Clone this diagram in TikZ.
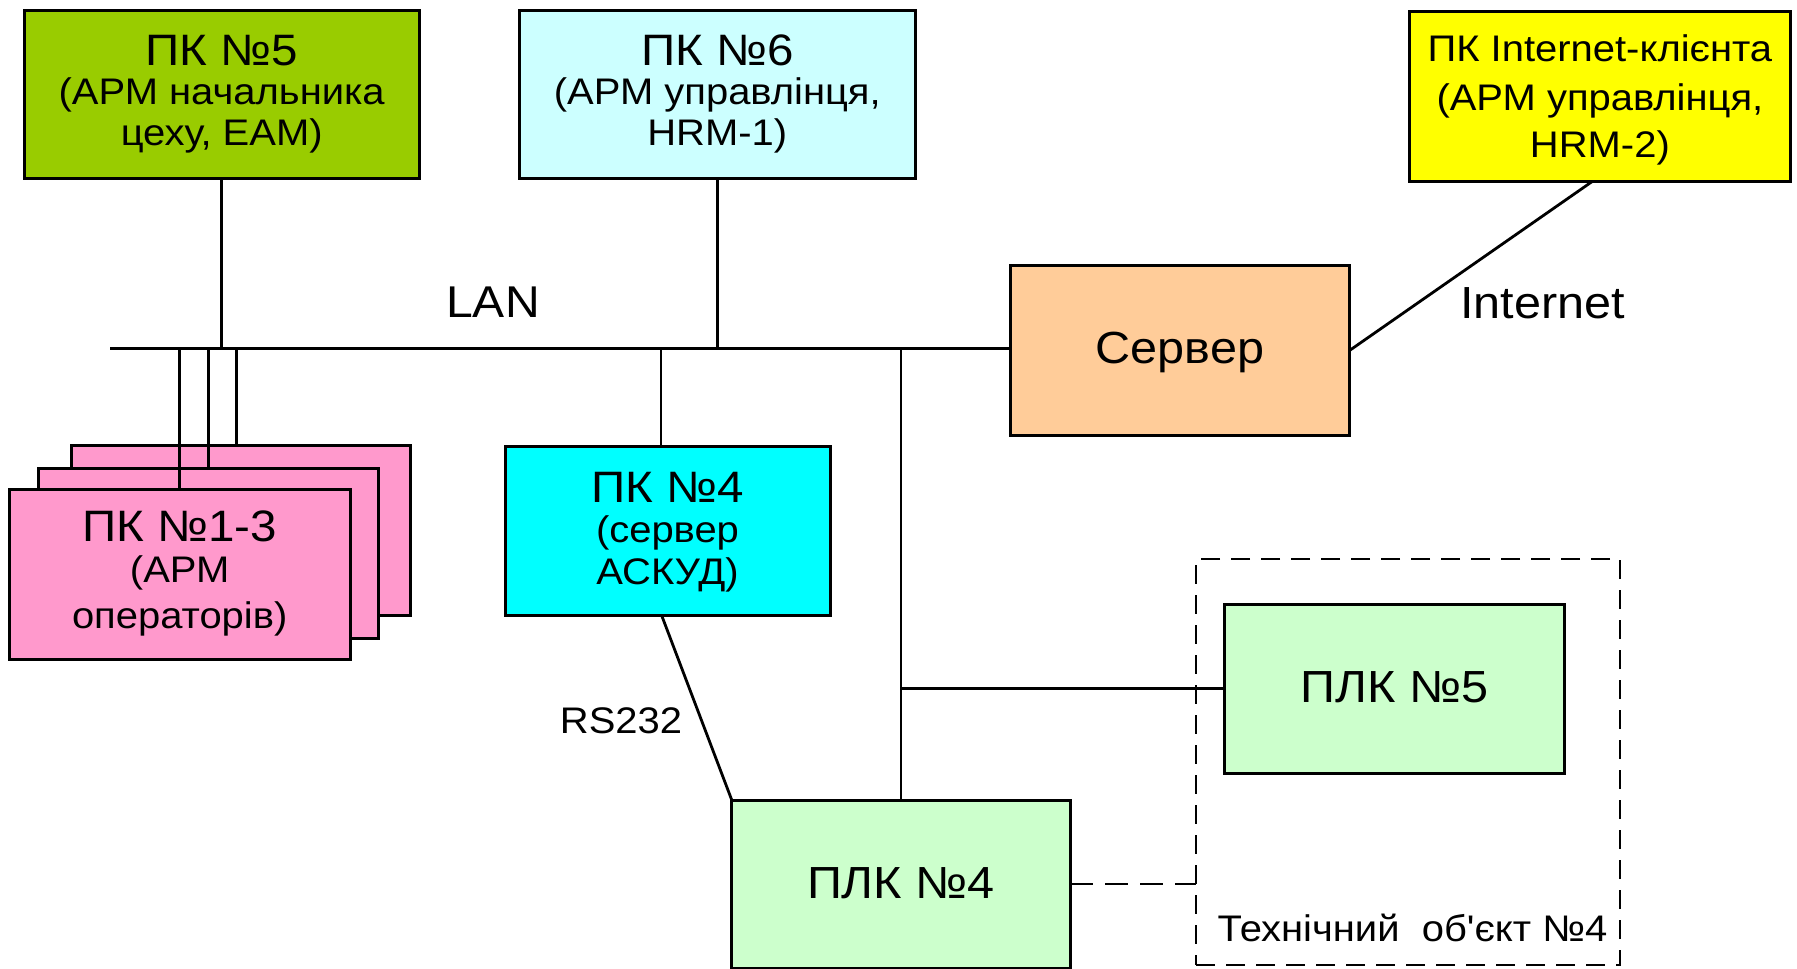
\documentclass[tikz,border=0pt]{standalone}
\usepackage{fontspec}
\setmainfont{Liberation Sans}[Ligatures=TeXOff, FakeStretch=1.08]

\definecolor{armboss}{HTML}{99CC00}
\definecolor{armhr}{HTML}{CCFFFF}
\definecolor{armnet}{HTML}{FFFF00}
\definecolor{srvcol}{HTML}{FFCC99}
\definecolor{opcol}{HTML}{FF99CC}
\definecolor{acscol}{HTML}{00FFFF}
\definecolor{plccol}{HTML}{CCFFCC}

\begin{document}
\begin{tikzpicture}[x=1pt,y=-1pt,
  box/.style={draw=black, line width=3pt, inner sep=0pt, outer sep=0pt},
  wire/.style={line width=2.8pt},
  linkdash/.style={line width=2.9pt, dash pattern=on 23pt off 12pt},
  zonedash/.style={draw=black, line width=2.9pt, dash pattern=on 19pt off 11pt, inner sep=0pt, outer sep=0pt},
  lbl/.style={inner sep=0pt, anchor=base},
  ttl/.style={lbl, font=\fontsize{44}{44}\selectfont},
  big/.style={lbl, font=\fontsize{45}{45}\selectfont},
  sub/.style={lbl, font=\fontsize{37}{37}\selectfont}]

\useasboundingbox (0,0) rectangle (1797,969);
\fill[white] (0,0) rectangle (1797,969);

% technical object zone
\node[zonedash, minimum width=424, minimum height=406] (obj) at (1408,762) {};

% workstations and servers
\node[box, fill=armboss, minimum width=395.3, minimum height=168.3] (pk5) at (221.7,94.2) {};
\node[box, fill=armhr, minimum width=395.5, minimum height=168.5] (pk6) at (717.3,94.3) {};
\node[box, fill=armnet, minimum width=381.7, minimum height=170] (inet) at (1599.9,96.7) {};
\node[box, fill=srvcol, minimum width=339.3, minimum height=169.3] (srv) at (1180,350.4) {};
\node[box, fill=opcol, minimum width=339, minimum height=170.3] (opback) at (241.2,530.2) {};
\node[box, fill=opcol, minimum width=340, minimum height=170] (opmid) at (208.3,553.3) {};
\node[box, fill=opcol, minimum width=340.7, minimum height=170] (opfront) at (179.7,574.3) {};
\node[box, fill=acscol, minimum width=325, minimum height=169] (pk4) at (667.5,530.5) {};
\node[box, fill=plccol, minimum width=338.3, minimum height=168] (plc4) at (900.9,884) {};
\node[box, fill=plccol, minimum width=339.7, minimum height=169.3] (plc5) at (1394.8,688.7) {};

% LAN bus
\coordinate (busL) at (110,348.5);
\draw[wire] (busL) -- (busL -| srv.west);
\draw[wire] (pk5.south) -- ([yshift=2pt]pk5.south |- busL);
\draw[wire] (pk6.south) -- ([yshift=2pt]pk6.south |- busL);
\draw[wire] (opfront.north) -- (opfront.north |- busL);
\draw[wire] (opmid.north) -- (opmid.north |- busL);
\draw[wire] ([xshift=-5pt]opback.north) -- ([xshift=-5pt]opback.north |- busL);
\draw[wire] ([xshift=-6.5pt]pk4.north) -- ([xshift=-6.5pt]pk4.north |- busL);
\draw[wire] (plc4.north) -- (plc4.north |- busL);
\draw[wire] (plc4.north |- plc5.west) -- (plc5.west);

% serial link, internet link, zone link
\draw[wire] ([xshift=-6pt]pk4.south) -- (plc4.north west);
\draw[wire] (srv.east) -- ([xshift=-8pt]inet.south);
\draw[linkdash] (plc4.east) -- (plc4.east -| obj.west);

% box captions
\node[ttl] (pk5a) at (221.7,65.7) {ПК №5};
\node[sub] (pk5b) at (221.7,104.3) {(АРМ начальника};
\node[sub] (pk5c) at (221.7,145.7) {цеху, ЕАМ)};

\node[ttl] (pk6a) at (717.3,65.7) {ПК №6};
\node[sub] (pk6b) at (717.3,104.3) {(АРМ управлінця,};
\node[sub] (pk6c) at (717.3,145.7) {HRM-1)};

\node[sub] (ineta) at (1599.9,61) {ПК Internet-клієнта};
\node[sub] (inetb) at (1599.9,110) {(АРМ управлінця,};
\node[sub] (inetc) at (1599.9,157) {HRM-2)};

\node[big] (srva) at (1180,363.3) {Сервер};

\node[ttl] (opa) at (179.7,541) {ПК №1-3};
\node[sub] (opb) at (179.7,582.3) {(АРМ};
\node[sub] (opc) at (179.7,628) {операторів)};

\node[ttl] (pk4a) at (667.5,502.3) {ПК №4};
\node[sub] (pk4b) at (667.5,542.7) {(сервер};
\node[sub] (pk4c) at (667.5,584) {АСКУД)};

\node[big] (plc4a) at (900.9,898.3) {ПЛК №4};
\node[big] (plc5a) at (1394.8,702.3) {ПЛК №5};

% link captions
\node[lbl, font=\fontsize{44.5}{44.5}\selectfont] (lan) at (493,317.7) {LAN};
\node[big] (www) at (1542.7,318) {Internet};
\node[sub] (rs) at (621,733.3) {RS232};
\node[sub] (obja) at (1412.5,941.7) {Технічний\ \ об'єкт №4};

\end{tikzpicture}
\end{document}
